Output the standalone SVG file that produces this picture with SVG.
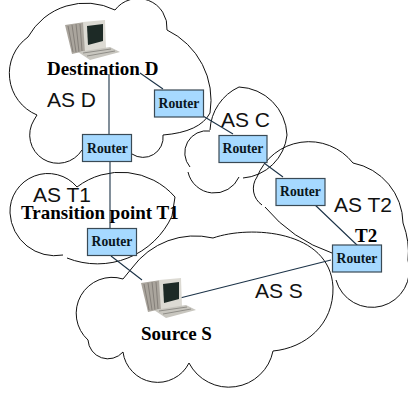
<svg xmlns="http://www.w3.org/2000/svg" width="408" height="397" viewBox="0 0 408 397">
<style>
.cloud{fill:none;stroke:#111;stroke-width:1}
.link{fill:none;stroke:#1c3348;stroke-width:1.1}
.box{fill:#a6d9ff;stroke:#3a4a55;stroke-width:1.2}
.rt{font:bold 13.6px "Liberation Serif",serif;fill:#0a1620;text-anchor:middle}
.lb{font:bold 19px "Liberation Serif",serif;fill:#000}
.as{font:21px "Liberation Sans",Arial,sans-serif;fill:#111}
</style>
<defs>
<g id="pc">
<path d="M0 5 L20 2 L20 31 L7 34 Z" fill="#aaa59d"/>
<path d="M3 6 L8 32 M7 5 L11 32 M11 4 L14 32 M15 4 L17 31" stroke="#85807a" stroke-width="1" fill="none"/>
<path d="M18 2 L40 0 L41 28 L20 33 Z" fill="#dcdad3"/>
<path d="M22 6 L38 4 L38 21 L23 25 Z" fill="#1d2a26"/>
<path d="M18 33 L41 28 L40 31 L22 36 Z" fill="#c2bfb8"/>
<path d="M13 32 L45 27 L55 32 L25 40 Z" fill="#c8c6bf"/>
<path d="M18 33 L46 29 M22 36 L50 31" stroke="#908e88" stroke-width="1" fill="none"/>
</g>
</defs>
<g id="as-d-cloud"><path class="cloud" d="M115 10 A29 29 0 0 1 167 30 A78 78 0 0 1 210 113 Q200 132 163 135 A20 20 0 0 1 132 154 M82 150 A27 27 0 0 1 34 120 L37 115 A45 45 0 0 1 28 37 A66 66 0 0 1 115 10"/></g>
<g id="as-c-cloud"><path class="cloud" d="M210 130 A50 50 0 0 1 239 87 A50 50 0 0 1 287 135 A48 48 0 0 1 243 178 M239 177 A27 27 0 0 1 188 172 M190 167 A22 22 0 0 1 210 131"/></g>
<g id="as-t2-cloud"><path class="cloud" d="M262 205 A20 20 0 0 1 257 177 A56 56 0 0 1 353 163 A62 62 0 0 1 403 223 Q410 242 408 260 A34 34 0 0 1 336 280 M265 207 A150 150 0 0 0 332 253"/></g>
<g id="as-t1-cloud"><path class="cloud" d="M63 255 A45 45 0 0 1 10 213 A38 38 0 0 1 77 187 A72 72 0 0 1 175 197 L172 216 A82 82 0 0 1 67 258"/></g>
<g id="as-s-cloud"><path class="cloud" d="M123 279 L132 268 A78 78 0 0 1 213 238 C250 225 330 230 333 287 C334 325 305 348 273 351 A45 45 0 0 1 189 363 A35 35 0 0 1 123 352 A20 20 0 0 1 88 340 A36 36 0 0 1 123 279"/></g>
<g id="connectors">
<path class="link" d="M109 74V134M140 73L163 89M110 161V228M203 116L233 134M264 163L283 177M313 203L358 246M111 256L142 280M180 298L331 260"/>
</g>
<g id="destination-d"><use href="#pc" x="65" y="20"/><text class="lb" x="47" y="75">Destination D</text></g>
<g id="source-s"><use href="#pc" x="141" y="278"/><text class="lb" x="141" y="340">Source S</text></g>
<g id="router-1"><rect class="box" x="82.500" y="134.500" width="49" height="27"/><text class="rt" x="107.500" y="152.500">Router</text></g>
<g id="router-2"><rect class="box" x="154.500" y="90" width="49" height="27"/><text class="rt" x="179" y="108">Router</text></g>
<g id="router-3"><rect class="box" x="219" y="135.500" width="48" height="27"/><text class="rt" x="243" y="153">Router</text></g>
<g id="router-4"><rect class="box" x="276" y="178.500" width="49" height="27"/><text class="rt" x="300.500" y="196">Router</text></g>
<g id="router-5"><rect class="box" x="332.500" y="245" width="49" height="27"/><text class="rt" x="357" y="263">Router</text></g>
<g id="router-6"><rect class="box" x="87.500" y="228.500" width="49" height="27"/><text class="rt" x="112" y="246">Router</text></g>
<text class="as" x="47" y="107">AS D</text>
<text class="as" x="221" y="127">AS C</text>
<text class="as" x="334" y="212">AS T2</text>
<text class="as" x="33" y="202">AS T1</text>
<text class="as" x="255" y="298">AS S</text>
<text class="lb" x="21" y="219">Transition point T1</text>
<text class="lb" x="355" y="242">T2</text>
</svg>
